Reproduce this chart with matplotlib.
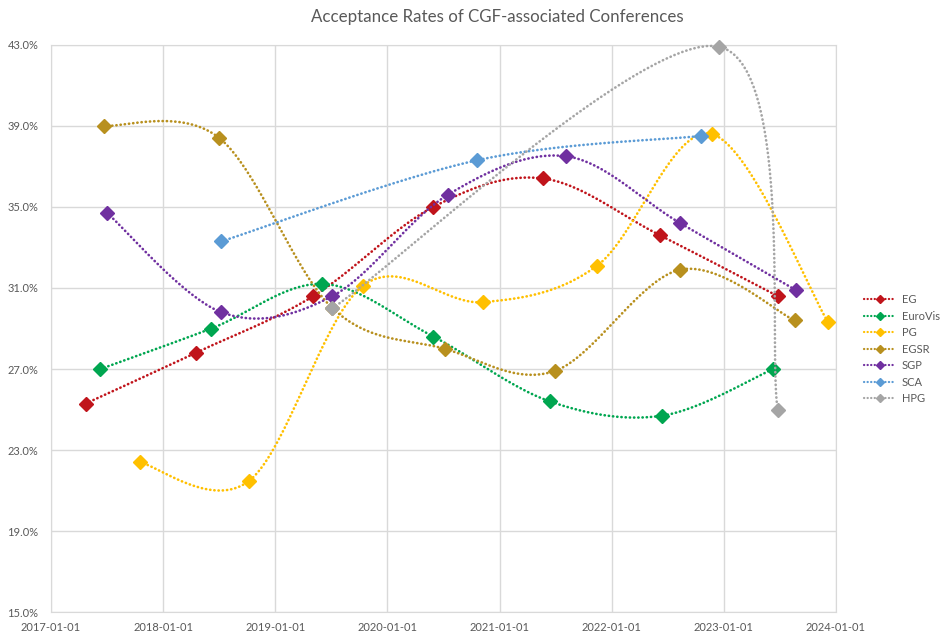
import numpy as np
import matplotlib
matplotlib.use("Agg")
import matplotlib.pyplot as plt
from matplotlib.lines import Line2D

# conference dates as decimal years, acceptance rates in percent
eg_x = [2017.31, 2018.29, 2019.34, 2020.41, 2021.39, 2022.43, 2023.48]
eg_y = [25.3, 27.8, 30.6, 35.0, 36.4, 33.6, 30.6]
eurovis_x = [2017.44, 2018.43, 2019.42, 2020.41, 2021.45, 2022.45, 2023.44]
eurovis_y = [27.0, 29.0, 31.2, 28.6, 25.4, 24.7, 27.0]
pg_x = [2017.79, 2018.77, 2019.78, 2020.85, 2021.87, 2022.89, 2023.93]
pg_y = [22.4, 21.5, 31.1, 30.3, 32.1, 38.6, 29.3]
egsr_x = [2017.47, 2018.50, 2019.51, 2020.51, 2021.49, 2022.61, 2023.63]
egsr_y = [39.0, 38.4, 30.0, 28.0, 26.9, 31.9, 29.4]
sgp_x = [2017.50, 2018.52, 2019.51, 2020.54, 2021.59, 2022.61, 2023.64]
sgp_y = [34.7, 29.8, 30.6, 35.6, 37.5, 34.2, 30.9]
sca_x = [2018.52, 2020.80, 2022.80]
sca_y = [33.3, 37.3, 38.5]
hpg_x = [2019.51, 2022.96, 2023.48]
hpg_y = [30.0, 42.9, 25.0]

names = ["EG", "EuroVis", "PG", "EGSR", "SGP", "SCA", "HPG"]
colors = ["#C0141B", "#00A650", "#FFC000", "#B8901E", "#7030A0", "#5B9BD5", "#A5A5A5"]
series = [(eg_x, eg_y), (eurovis_x, eurovis_y), (pg_x, pg_y), (egsr_x, egsr_y),
          (sgp_x, sgp_y), (sca_x, sca_y), (hpg_x, hpg_y)]

year_ticks = list(range(2017, 2025))
year_labels = [f"{y}-01-01" for y in year_ticks]
pct_ticks = [15, 19, 23, 27, 31, 35, 39, 43]

X0, X1, Y0, Y1 = 2017, 2024, 15, 43
W, H = 785.0, 567.6   # plot area in pixels, spline is done in screen space


def smooth(xs, ys, n=40):
    # excel-like smoothed line: catmull-rom as cubic bezier
    px = (np.asarray(xs) - X0) / (X1 - X0) * W
    py = (np.asarray(ys) - Y0) / (Y1 - Y0) * H
    P = np.column_stack([px, py])
    ext = np.vstack([P[0], P, P[-1]])
    t = np.linspace(0, 1, n)[:, None]
    pts = []
    for i in range(len(P) - 1):
        p0, p1, p2, p3 = ext[i], ext[i + 1], ext[i + 2], ext[i + 3]
        c1 = p1 + (p2 - p0) / 6
        c2 = p2 - (p3 - p1) / 6
        seg = (1 - t) ** 3 * p1 + 3 * (1 - t) ** 2 * t * c1 + 3 * (1 - t) * t ** 2 * c2 + t ** 3 * p2
        pts.append(seg if i == 0 else seg[1:])
    pts = np.vstack(pts)
    return pts[:, 0] / W * (X1 - X0) + X0, pts[:, 1] / H * (Y1 - Y0) + Y0


plt.rcParams['font.family'] = ['Lato', 'DejaVu Sans']
fig = plt.figure(figsize=(9.44, 6.34), dpi=100)
ax = fig.add_axes([51 / 944, 21.7 / 634, 785 / 944, 567.6 / 634])

dots = (0, (0.1, 1.5))
for i, ((xs, ys), c) in enumerate(zip(series, colors)):
    sx, sy = smooth(xs, ys)
    ax.plot(sx, sy, linestyle=dots, dash_capstyle='round', lw=1.9, color=c,
            zorder=3 + i, clip_on=False)
    ax.plot(xs, ys, linestyle='none', marker='D', ms=7.0, color=c, mec=c,
            zorder=3 + i, clip_on=False)

ax.set_xlim(X0, X1)
ax.set_ylim(Y0, Y1)
ax.set_xticks(year_ticks)
ax.set_xticklabels(year_labels)
ax.set_yticks(pct_ticks)
ax.set_yticklabels([f"{v:.1f}%" for v in pct_ticks])
ax.tick_params(length=0, labelsize=8, labelcolor="#595959")
ax.tick_params(axis='y', pad=9)
ax.tick_params(axis='x', pad=7)
ax.grid(color="#D9D9D9", lw=1)
ax.set_axisbelow(True)
for s in ax.spines.values():
    s.set_color("#D9D9D9")

fig.text(497 / 944, 1 - 17 / 634, "Acceptance Rates of CGF-associated Conferences",
         ha='center', va='center', fontsize=12.2, color="#595959")

handles = [Line2D([], [], linestyle=dots, dash_capstyle='round', lw=1.6, color=c,
                  marker='D', ms=4, mec=c) for c in colors]
fig.legend(handles, names, loc='upper left', bbox_to_anchor=(864 / 944, 1 - 294 / 634),
           frameon=False, fontsize=8.0, labelcolor="#595959", numpoints=1,
           handlelength=2.9, handletextpad=0.5, labelspacing=0.5, borderaxespad=0,
           borderpad=0)

fig.savefig("out.png", dpi=100)
